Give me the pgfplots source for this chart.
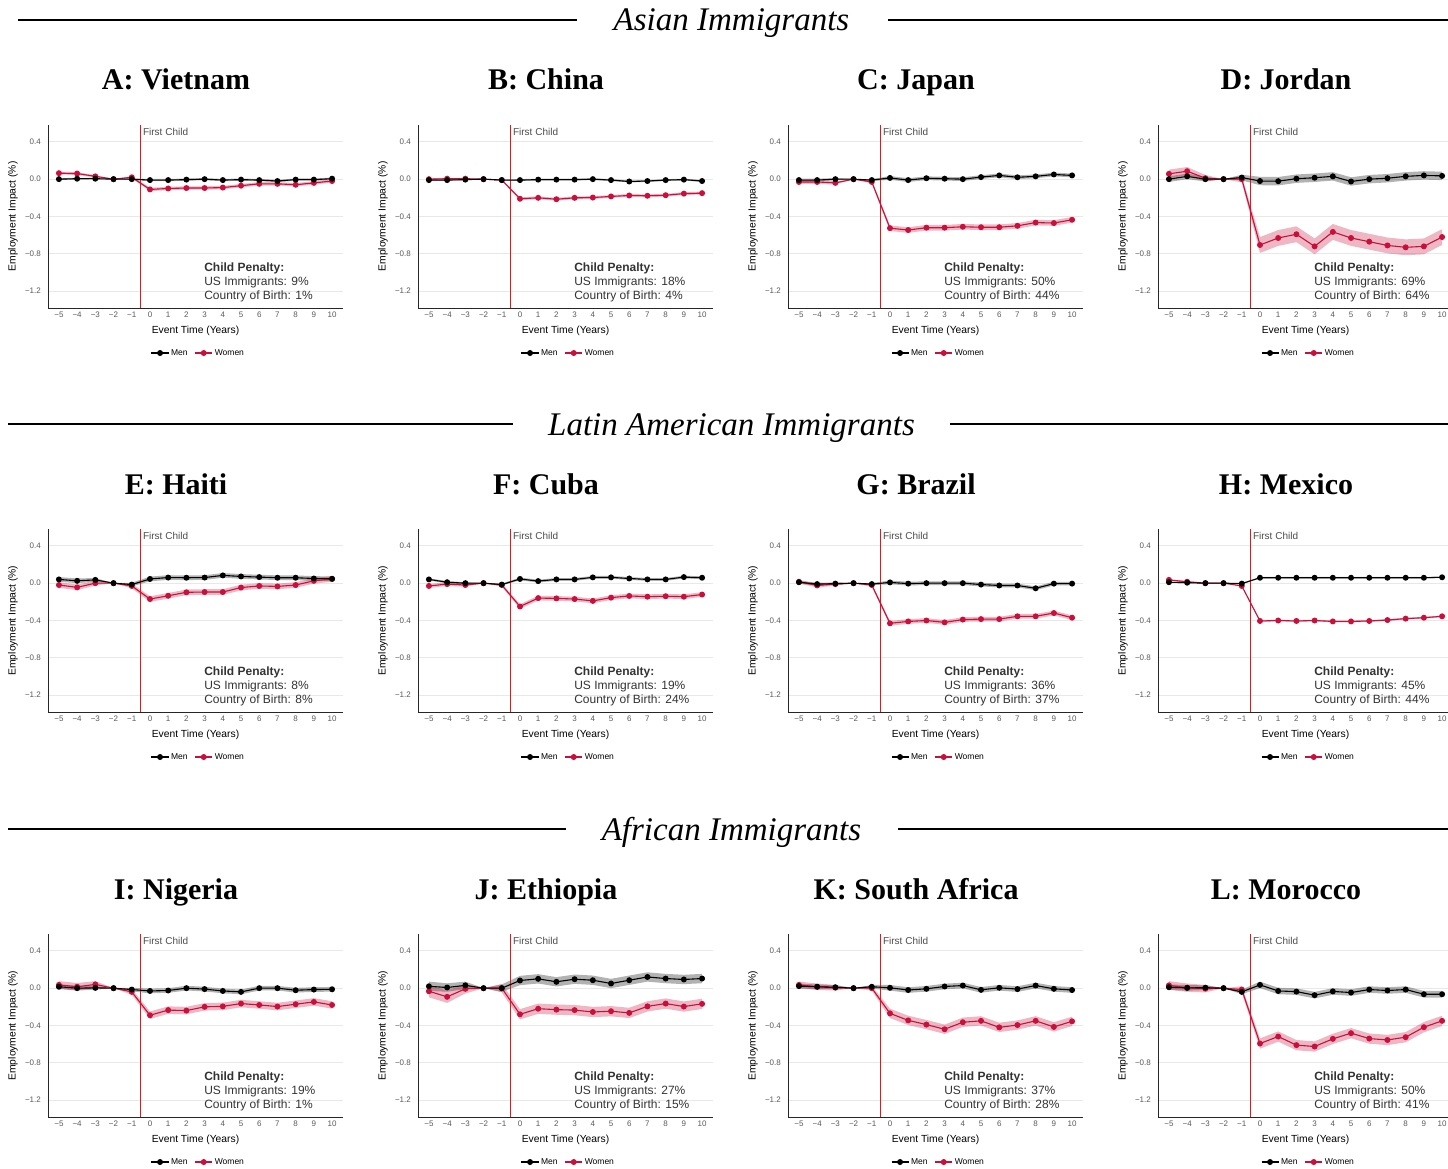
\documentclass[border=0pt]{standalone}
\usepackage{fontspec}
\setmainfont{Liberation Sans}
\newfontfamily\serifT{Liberation Serif}
\usepackage{pgfplots}
\pgfplotsset{compat=1.18}
\usepackage{pgfplotstable}
\usepgfplotslibrary{fillbetween}
\definecolor{crim}{RGB}{200,16,60}
\definecolor{vred}{RGB}{225,25,25}

\pgfplotstableread{
t m mb w wb
-5 0.000 0.010 0.064 0.015
-4 0.005 0.010 0.060 0.015
-3 0.005 0.008 0.030 0.012
-2 0 0 0 0
-1 0.000 0.008 0.020 0.012
0 -0.010 0.012 -0.110 0.018
1 -0.010 0.012 -0.100 0.018
2 -0.005 0.012 -0.095 0.018
3 0.000 0.012 -0.095 0.018
4 -0.010 0.012 -0.090 0.018
5 -0.005 0.012 -0.070 0.018
6 -0.010 0.012 -0.050 0.018
7 -0.020 0.012 -0.050 0.018
8 -0.005 0.012 -0.060 0.018
9 -0.005 0.012 -0.040 0.018
10 0.005 0.012 -0.020 0.018
}\tabA
\pgfplotstableread{
t m mb w wb
-5 -0.010 0.008 0.000 0.010
-4 -0.010 0.008 0.005 0.010
-3 -0.005 0.006 0.005 0.008
-2 0 0 0 0
-1 -0.010 0.006 -0.010 0.008
0 -0.010 0.010 -0.210 0.015
1 -0.005 0.010 -0.200 0.015
2 -0.005 0.010 -0.215 0.015
3 -0.005 0.010 -0.200 0.015
4 0.000 0.010 -0.197 0.015
5 -0.010 0.010 -0.185 0.015
6 -0.025 0.010 -0.175 0.015
7 -0.020 0.010 -0.178 0.015
8 -0.010 0.010 -0.172 0.015
9 -0.005 0.010 -0.155 0.015
10 -0.020 0.010 -0.150 0.015
}\tabB
\pgfplotstableread{
t m mb w wb
-5 -0.010 0.015 -0.030 0.020
-4 -0.010 0.015 -0.030 0.020
-3 0.000 0.012 -0.040 0.018
-2 0 0 0 0
-1 -0.010 0.012 -0.030 0.018
0 0.013 0.020 -0.525 0.030
1 -0.010 0.020 -0.545 0.030
2 0.010 0.020 -0.520 0.030
3 0.005 0.020 -0.520 0.030
4 0.000 0.020 -0.510 0.030
5 0.022 0.020 -0.515 0.030
6 0.040 0.020 -0.515 0.030
7 0.020 0.020 -0.500 0.030
8 0.030 0.020 -0.465 0.030
9 0.050 0.020 -0.470 0.030
10 0.040 0.020 -0.435 0.030
}\tabC
\pgfplotstableread{
t m mb w wb
-5 0.000 0.030 0.057 0.045
-4 0.030 0.030 0.085 0.045
-3 0.000 0.025 0.010 0.035
-2 0 0 0 0
-1 0.017 0.030 0.000 0.035
0 -0.020 0.045 -0.705 0.085
1 -0.022 0.045 -0.630 0.085
2 0.005 0.045 -0.590 0.085
3 0.015 0.045 -0.720 0.085
4 0.030 0.045 -0.565 0.085
5 -0.025 0.045 -0.630 0.085
6 0.000 0.045 -0.670 0.085
7 0.010 0.045 -0.710 0.085
8 0.030 0.045 -0.730 0.085
9 0.040 0.045 -0.720 0.085
10 0.035 0.045 -0.620 0.085
}\tabD
\pgfplotstableread{
t m mb w wb
-5 0.040 0.025 -0.020 0.030
-4 0.025 0.025 -0.045 0.030
-3 0.035 0.020 0.000 0.025
-2 0 0 0 0
-1 -0.015 0.020 -0.030 0.025
0 0.045 0.025 -0.170 0.030
1 0.060 0.025 -0.135 0.030
2 0.058 0.025 -0.098 0.030
3 0.060 0.025 -0.095 0.030
4 0.083 0.025 -0.095 0.030
5 0.072 0.025 -0.047 0.030
6 0.065 0.025 -0.030 0.030
7 0.058 0.025 -0.035 0.030
8 0.058 0.025 -0.020 0.030
9 0.050 0.025 0.025 0.030
10 0.047 0.025 0.045 0.030
}\tabE
\pgfplotstableread{
t m mb w wb
-5 0.040 0.012 -0.030 0.020
-4 0.010 0.012 -0.010 0.020
-3 0.000 0.010 -0.020 0.018
-2 0 0 0 0
-1 -0.015 0.010 -0.020 0.018
0 0.045 0.015 -0.250 0.025
1 0.022 0.015 -0.160 0.025
2 0.040 0.015 -0.163 0.025
3 0.040 0.015 -0.170 0.025
4 0.062 0.015 -0.190 0.025
5 0.062 0.015 -0.155 0.025
6 0.050 0.015 -0.137 0.025
7 0.040 0.015 -0.145 0.025
8 0.040 0.015 -0.140 0.025
9 0.065 0.015 -0.145 0.025
10 0.058 0.015 -0.122 0.025
}\tabF
\pgfplotstableread{
t m mb w wb
-5 0.010 0.015 0.015 0.020
-4 -0.010 0.015 -0.025 0.020
-3 -0.005 0.012 -0.010 0.018
-2 0 0 0 0
-1 -0.010 0.012 -0.020 0.018
0 0.008 0.020 -0.430 0.025
1 -0.005 0.020 -0.410 0.025
2 0.000 0.020 -0.400 0.025
3 0.000 0.020 -0.420 0.025
4 0.000 0.020 -0.390 0.025
5 -0.015 0.020 -0.385 0.025
6 -0.025 0.020 -0.385 0.025
7 -0.025 0.020 -0.355 0.025
8 -0.055 0.020 -0.355 0.025
9 -0.005 0.020 -0.320 0.025
10 -0.005 0.020 -0.370 0.025
}\tabG
\pgfplotstableread{
t m mb w wb
-5 0.010 0.006 0.035 0.008
-4 0.005 0.006 0.015 0.008
-3 0.000 0.005 0.000 0.006
-2 0 0 0 0
-1 -0.005 0.005 -0.030 0.006
0 0.058 0.008 -0.405 0.010
1 0.058 0.008 -0.400 0.010
2 0.058 0.008 -0.405 0.010
3 0.058 0.008 -0.400 0.010
4 0.058 0.008 -0.410 0.010
5 0.058 0.008 -0.410 0.010
6 0.058 0.008 -0.405 0.010
7 0.058 0.008 -0.395 0.010
8 0.058 0.008 -0.380 0.010
9 0.058 0.008 -0.370 0.010
10 0.063 0.008 -0.355 0.010
}\tabH
\pgfplotstableread{
t m mb w wb
-5 0.015 0.025 0.035 0.040
-4 0.000 0.025 0.015 0.040
-3 0.003 0.020 0.040 0.035
-2 0 0 0 0
-1 -0.015 0.020 -0.040 0.030
0 -0.030 0.025 -0.290 0.040
1 -0.025 0.025 -0.235 0.040
2 0.000 0.025 -0.240 0.040
3 -0.010 0.025 -0.200 0.040
4 -0.030 0.025 -0.195 0.040
5 -0.040 0.025 -0.165 0.040
6 0.000 0.025 -0.180 0.040
7 0.000 0.025 -0.197 0.040
8 -0.022 0.025 -0.172 0.040
9 -0.015 0.025 -0.147 0.040
10 -0.012 0.025 -0.180 0.040
}\tabI
\pgfplotstableread{
t m mb w wb
-5 0.020 0.050 -0.033 0.065
-4 0.007 0.045 -0.093 0.065
-3 0.030 0.040 -0.007 0.050
-2 0 0 0 0
-1 0.000 0.040 0.000 0.045
0 0.082 0.050 -0.280 0.055
1 0.100 0.050 -0.220 0.055
2 0.068 0.050 -0.230 0.055
3 0.096 0.050 -0.235 0.055
4 0.085 0.050 -0.255 0.055
5 0.050 0.050 -0.247 0.055
6 0.085 0.050 -0.265 0.055
7 0.120 0.050 -0.195 0.055
8 0.103 0.050 -0.165 0.055
9 0.093 0.050 -0.197 0.055
10 0.103 0.050 -0.168 0.055
}\tabJ
\pgfplotstableread{
t m mb w wb
-5 0.022 0.025 0.035 0.035
-4 0.015 0.025 0.015 0.035
-3 0.010 0.020 0.005 0.030
-2 0 0 0 0
-1 0.015 0.020 0.000 0.025
0 0.004 0.030 -0.270 0.050
1 -0.020 0.030 -0.345 0.050
2 -0.007 0.030 -0.390 0.050
3 0.018 0.030 -0.440 0.050
4 0.028 0.030 -0.365 0.050
5 -0.018 0.030 -0.350 0.050
6 0.004 0.030 -0.420 0.050
7 -0.010 0.030 -0.395 0.050
8 0.028 0.030 -0.350 0.050
9 -0.007 0.030 -0.415 0.050
10 -0.020 0.030 -0.355 0.050
}\tabK
\pgfplotstableread{
t m mb w wb
-5 0.010 0.030 0.030 0.045
-4 0.003 0.030 0.005 0.045
-3 0.005 0.025 -0.005 0.040
-2 0 0 0 0
-1 -0.040 0.025 -0.015 0.035
0 0.035 0.035 -0.593 0.055
1 -0.030 0.035 -0.518 0.055
2 -0.037 0.035 -0.610 0.055
3 -0.075 0.035 -0.625 0.055
4 -0.035 0.035 -0.543 0.055
5 -0.047 0.035 -0.482 0.055
6 -0.015 0.035 -0.540 0.055
7 -0.025 0.035 -0.555 0.055
8 -0.015 0.035 -0.525 0.055
9 -0.065 0.035 -0.418 0.055
10 -0.065 0.035 -0.350 0.055
}\tabL

\pgfplotsset{
  menline/.style={black, line width=1.1pt, mark=*, mark size=2.4pt, mark options={solid}},
  womline/.style={crim, line width=1.1pt, mark=*, mark size=2.4pt, mark options={solid}},
  panel/.style={
    scale only axis, width=295pt, height=183pt,
    xmin=-5.6, xmax=10.6, ymin=-1.38, ymax=0.58,
    axis x line*=bottom, axis y line*=left,
    axis line style={black!85, line width=0.9pt},
    xtick={-5,...,10},
    xticklabels={−5,−4,−3,−2,−1,0,1,2,3,4,5,6,7,8,9,10},
    ytick={-1.2,-0.8,-0.4,0,0.4},
    yticklabels={−1.2,−0.8,−0.4,0.0,0.4},
    tick style={draw=none},
    ymajorgrids, grid style={black!9, line width=0.8pt},
    tick label style={font=\fontsize{8}{9}\selectfont, text=black!65, inner sep=0pt},
    xticklabel style={anchor=north, yshift=-4pt},
    yticklabel style={anchor=east, xshift=-7pt},
    xlabel={Event Time (Years)}, ylabel={Employment Impact (\%)},
    every axis x label/.style={at={(axis description cs:0.5,-0.126)}, anchor=center, font=\fontsize{10.3}{12}\selectfont},
    every axis y label/.style={at={(axis description cs:-0.119,0.5)}, anchor=center, rotate=90, font=\fontsize{10.3}{12}\selectfont},
    legend style={at={(axis description cs:0.51,-0.246)}, anchor=center, draw=none, fill=none,
      font=\fontsize{8.5}{10}\selectfont, /tikz/every even column/.append style={column sep=5pt}},
    legend columns=2,
  }
}

\newcommand{\panel}[6]{%
  \node[font=\serifT\bfseries\fontsize{30}{34}\selectfont, anchor=base] at (#1pt+176pt,-#2pt-90pt) {#3};
  \begin{axis}[panel, at={(#1pt+48pt,-#2pt-308pt)}, anchor=south west]
    \addplot[draw=vred, line width=1pt, forget plot] coordinates {(-0.5,-1.38) (-0.5,0.58)};
    \addplot[draw=none, name path=mu, forget plot] table[x=t, y expr=\thisrow{m}+\thisrow{mb}] {#4};
    \addplot[draw=none, name path=ml, forget plot] table[x=t, y expr=\thisrow{m}-\thisrow{mb}] {#4};
    \addplot[draw=none, name path=wu, forget plot] table[x=t, y expr=\thisrow{w}+\thisrow{wb}] {#4};
    \addplot[draw=none, name path=wl, forget plot] table[x=t, y expr=\thisrow{w}-\thisrow{wb}] {#4};
    \addplot[fill=black, fill opacity=0.3, draw=none, forget plot] fill between[of=mu and ml];
    \addplot[fill=crim, fill opacity=0.3, draw=none, forget plot] fill between[of=wu and wl];
    \addplot[womline, forget plot] table[x=t, y=w] {#4};
    \addplot[menline, forget plot] table[x=t, y=m] {#4};
    \addlegendimage{menline}\addlegendentry{Men}
    \addlegendimage{womline}\addlegendentry{Women}
    \node[anchor=west, font=\fontsize{10}{12}\selectfont, text=black!70, inner sep=0pt, xshift=2pt, yshift=-7pt] at (axis cs:-0.5,0.58) {First Child};
    \node[anchor=base west, inner sep=0pt, font=\bfseries\fontsize{12}{14}\selectfont, text=black!80] at (axis cs:2.97,-0.984) {Child Penalty:};
    \node[anchor=base west, inner sep=0pt, font=\fontsize{12}{14}\selectfont, text=black!80] at (axis cs:2.97,-1.139) {US Immigrants: #5\%};
    \node[anchor=base west, inner sep=0pt, font=\fontsize{12}{14}\selectfont, text=black!80] at (axis cs:2.97,-1.294) {Country of Birth: #6\%};
  \end{axis}
}

\begin{document}
\begin{tikzpicture}
% section headers
\draw[line width=2.2pt] (18pt,-20pt) -- (577pt,-20pt);
\draw[line width=2.2pt] (888pt,-20pt) -- (1448pt,-20pt);
\node[font=\serifT\itshape\fontsize{33}{36}\selectfont, anchor=base] at (731.5pt,-31pt) {Asian Immigrants};
\draw[line width=2.2pt] (8pt,-424pt) -- (513pt,-424pt);
\draw[line width=2.2pt] (950pt,-424pt) -- (1448pt,-424pt);
\node[font=\serifT\itshape\fontsize{33}{36}\selectfont, anchor=base] at (731.5pt,-435pt) {Latin American Immigrants};
\draw[line width=2.2pt] (8pt,-829pt) -- (566pt,-829pt);
\draw[line width=2.2pt] (898pt,-829pt) -- (1448pt,-829pt);
\node[font=\serifT\itshape\fontsize{33}{36}\selectfont, anchor=base] at (731.5pt,-840pt) {African Immigrants};

\panel{0}{0}{A: Vietnam}{\tabA}{9}{1}
\panel{370}{0}{B: China}{\tabB}{18}{4}
\panel{740}{0}{C: Japan}{\tabC}{50}{44}
\panel{1110}{0}{D: Jordan}{\tabD}{69}{64}
\panel{0}{404}{E: Haiti}{\tabE}{8}{8}
\panel{370}{404}{F: Cuba}{\tabF}{19}{24}
\panel{740}{404}{G: Brazil}{\tabG}{36}{37}
\panel{1110}{404}{H: Mexico}{\tabH}{45}{44}
\panel{0}{809}{I: Nigeria}{\tabI}{19}{1}
\panel{370}{809}{J: Ethiopia}{\tabJ}{27}{15}
\panel{740}{809}{K: South Africa}{\tabK}{37}{28}
\panel{1110}{809}{L: Morocco}{\tabL}{50}{41}

\pgfresetboundingbox
\path[use as bounding box] (0,0) rectangle (1448pt,-1169pt);
\end{tikzpicture}
\end{document}
